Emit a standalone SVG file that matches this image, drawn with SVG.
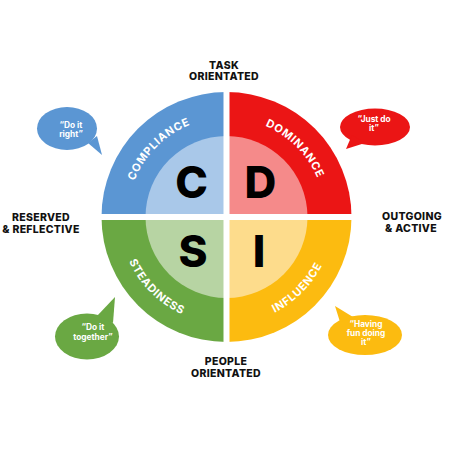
<svg xmlns="http://www.w3.org/2000/svg" xmlns:xlink="http://www.w3.org/1999/xlink" width="452" height="452" viewBox="0 0 452 452">
<style>
.lbl{font-family:Inter,"Open Sans","DejaVu Sans",sans-serif;font-weight:800;font-size:10.5px;fill:#111;text-anchor:middle;letter-spacing:0.3px}
.ring{font-family:Inter,"Open Sans","DejaVu Sans",sans-serif;font-weight:700;font-size:11px;fill:#fff;letter-spacing:0.7px}
.big{font-family:Inter,"Open Sans","DejaVu Sans",sans-serif;font-weight:800;font-size:44px;fill:#000;text-anchor:middle}
.bub{font-family:Inter,"Open Sans","DejaVu Sans",sans-serif;font-weight:700;font-size:8.3px;fill:#fff;text-anchor:middle}
</style>
<defs>
<path id="arcTL" d="M-99,0 A99,99 0 0 1 0,-99"/>
<path id="arcTR" d="M0,-99 A99,99 0 0 1 99,0"/>
<path id="arcBL" d="M-107,0 A107,107 0 0 0 0,107"/>
<path id="arcBR" d="M0,107 A107,107 0 0 0 107,0"/>
</defs>
<rect width="452" height="452" fill="#fff"/>
<g id="wheel" transform="translate(226.5,217)">
<g id="compliance">
<path d="M0,0 L-125,0 A125,125 0 0 1 0,-125 Z" fill="#5b96d3"/>
<path d="M0,0 L-81,0 A81,81 0 0 1 0,-81 Z" fill="#a9c8e9"/>
<text class="ring"><textPath href="#arcTL" xlink:href="#arcTL" startOffset="50%" text-anchor="middle">COMPLIANCE</textPath></text>
<text class="big" x="-35" y="-19">C</text>
</g>
<g id="dominance">
<path d="M0,0 L0,-125 A125,125 0 0 1 125,0 Z" fill="#eb1515"/>
<path d="M0,0 L0,-81 A81,81 0 0 1 81,0 Z" fill="#f58a8a"/>
<text class="ring"><textPath href="#arcTR" xlink:href="#arcTR" startOffset="50%" text-anchor="middle">DOMINANCE</textPath></text>
<text class="big" x="34" y="-19">D</text>
</g>
<g id="influence">
<path d="M0,0 L125,0 A125,125 0 0 1 0,125 Z" fill="#fcbb10"/>
<path d="M0,0 L81,0 A81,81 0 0 1 0,81 Z" fill="#fddc8c"/>
<text class="ring"><textPath href="#arcBR" xlink:href="#arcBR" startOffset="50%" text-anchor="middle">INFLUENCE</textPath></text>
<text class="big" x="32.5" y="50">I</text>
</g>
<g id="steadiness">
<path d="M0,0 L0,125 A125,125 0 0 1 -125,0 Z" fill="#6aa843"/>
<path d="M0,0 L0,81 A81,81 0 0 1 -81,0 Z" fill="#b7d4a3"/>
<text class="ring"><textPath href="#arcBL" xlink:href="#arcBL" startOffset="50%" text-anchor="middle">STEADINESS</textPath></text>
<text class="big" x="-33.5" y="50">S</text>
</g>
<g id="connectors">
<rect x="-3" y="-130" width="6" height="260" fill="#fff"/>
<rect x="-130" y="-3" width="260" height="6" fill="#fff"/>
</g>
</g>
<g id="bubble-blue">
<ellipse cx="67" cy="128.5" rx="30" ry="21.5" fill="#5b96d3"/>
<polygon points="88,143 102,155 97,136" fill="#5b96d3"/>
<text class="bub" x="71" y="127.5">“Do it</text>
<text class="bub" x="71" y="137">right”</text>
</g>
<g id="bubble-red">
<ellipse cx="375" cy="127" rx="35" ry="18.5" fill="#eb1515"/>
<polygon points="352,135 346,149 365,143" fill="#eb1515"/>
<text class="bub" x="374" y="121.5">“Just do</text>
<text class="bub" x="374" y="130.5">it”</text>
</g>
<g id="bubble-green">
<ellipse cx="87" cy="336.5" rx="32" ry="23" fill="#6aa843"/>
<polygon points="97,316 115,297 113,323" fill="#6aa843"/>
<text class="bub" x="93" y="330">“Do it</text>
<text class="bub" x="93" y="339.5">together”</text>
</g>
<g id="bubble-yellow">
<ellipse cx="365" cy="335" rx="37" ry="20" fill="#fcbb10"/>
<polygon points="340,322 335,306 353,317" fill="#fcbb10"/>
<text class="bub" x="366" y="327">“Having</text>
<text class="bub" x="366" y="336">fun doing</text>
<text class="bub" x="366" y="345">it”</text>
</g>
<g id="task">
<text class="lbl" x="224" y="68.5">TASK</text>
<text class="lbl" x="224" y="80">ORIENTATED</text>
</g>
<g id="people">
<text class="lbl" x="226" y="364.5">PEOPLE</text>
<text class="lbl" x="226" y="377">ORIENTATED</text>
</g>
<g id="reserved">
<text class="lbl" x="41" y="220.5">RESERVED</text>
<text class="lbl" x="41" y="232.5">&amp; REFLECTIVE</text>
</g>
<g id="outgoing">
<text class="lbl" x="412" y="219.5">OUTGOING</text>
<text class="lbl" x="411" y="232">&amp; ACTIVE</text>
</g>
</svg>
